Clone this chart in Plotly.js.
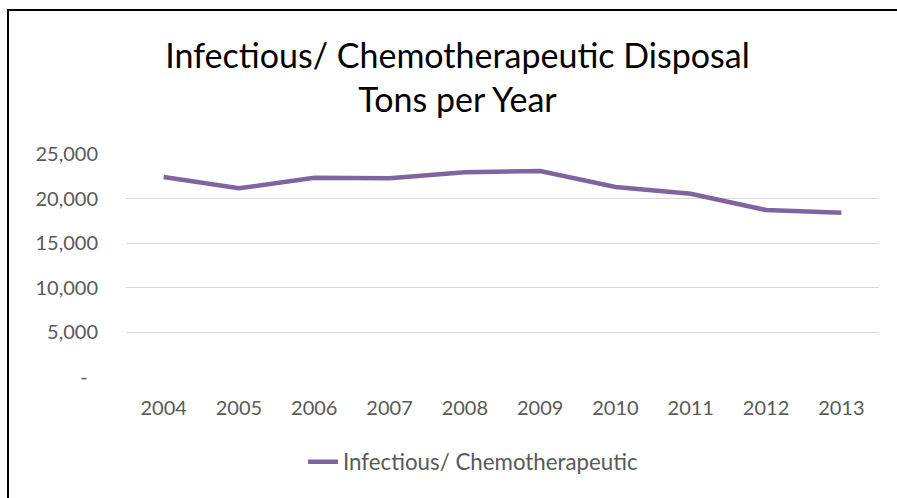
<!DOCTYPE html>
<html>
<head>
<meta charset="utf-8">
<script src="https://cdn.plot.ly/plotly-3.0.1.min.js"></script>
<style>
  html, body { margin: 0; padding: 0; background: #fff; }
  #wrap { position: relative; width: 897px; height: 498px; overflow: hidden; }
  #chart { position: absolute; left: 0; top: 0; width: 897px; height: 498px; }
  #frame { position: absolute; left: 7px; top: 9px; width: 900px; height: 500px;
           border-left: 2px solid #000; border-top: 2px solid #000; pointer-events: none; }
</style>
</head>
<body>
<div id="wrap">
  <div id="chart"></div>
  <div id="frame"></div>
</div>
<script>
const years = ['2004','2005','2006','2007','2008','2009','2010','2011','2012','2013'];
const tons = [22420, 21150, 22340, 22270, 22950, 23090, 21300, 20550, 18720, 18420];
const seriesName = 'Infectious/ Chemotherapeutic';
const yTickVals = [0, 5000, 10000, 15000, 20000, 25000];
const yTickText = ['-\u00a0\u00a0', '5,000', '10,000', '15,000', '20,000', '25,000'];
const chartTitle = 'Infectious/ Chemotherapeutic Disposal<br>Tons per Year';

const font = 'Lato, "Open Sans", sans-serif';

const trace = {
  x: years,
  y: tons,
  name: seriesName,
  type: 'scatter',
  mode: 'lines',
  line: { color: '#8064A2', width: 4.5 },
  showlegend: true
};

const layout = {
  width: 897,
  height: 498,
  paper_bgcolor: '#ffffff',
  plot_bgcolor: '#ffffff',
  margin: { l: 126, r: 18, t: 154, b: 121 },
  title: {
    text: chartTitle,
    font: { family: font, size: 34, color: '#000000' },
    x: 0.51, xanchor: 'center', xref: 'container',
    y: 0.864, yanchor: 'middle', yref: 'container'
  },
  xaxis: {
    type: 'category',
    range: [-0.5, 9.5],
    showgrid: false,
    zeroline: false,
    showline: false,
    ticks: '',
    ticklabelstandoff: 17,
    tickfont: { family: font, size: 20, color: '#595959' },
    fixedrange: true
  },
  yaxis: {
    range: [0, 25000],
    tickvals: yTickVals,
    ticktext: yTickText,
    showgrid: true,
    gridcolor: '#D9D9D9',
    gridwidth: 1,
    zeroline: false,
    showline: false,
    ticks: '',
    ticklabelstandoff: 27,
    tickfont: { family: font, size: 20, color: '#595959' },
    fixedrange: true
  },
  legend: {
    orientation: 'h',
    x: 0.4615, xanchor: 'center',
    y: -0.38, yanchor: 'middle',
    font: { family: font, size: 22.3, color: '#595959' },
    bgcolor: 'rgba(0,0,0,0)'
  },
  showlegend: true
};

Plotly.newPlot('chart', [trace], layout, { displayModeBar: false, staticPlot: true });
</script>
</body>
</html>
